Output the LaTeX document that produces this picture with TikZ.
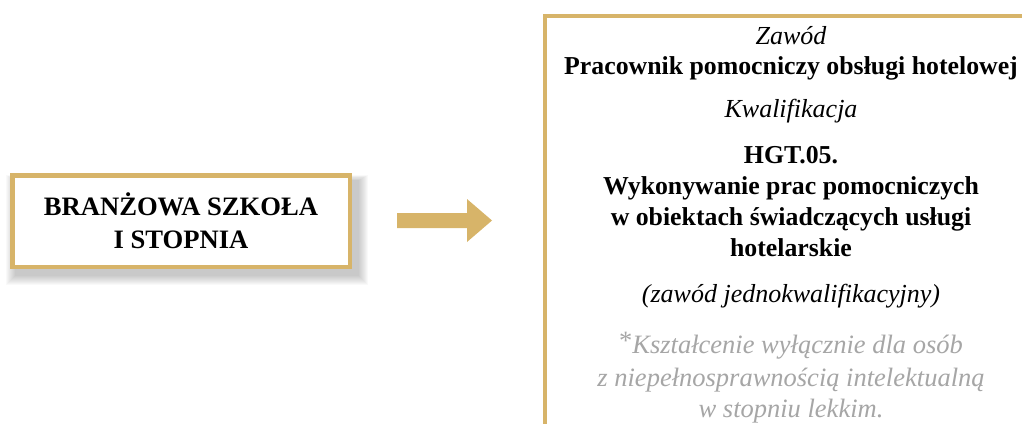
\documentclass[tikz,border=0pt]{standalone}
\usepackage{fontspec}
\setmainfont{Liberation Serif}
\definecolor{gold}{RGB}{215,180,105}
\definecolor{notegray}{RGB}{166,166,166}
\tikzset{
  goldframe/.style={draw=gold, line width=4.5pt, fill=white},
  boldline/.style={anchor=base, inner sep=0pt, font=\bfseries\fontsize{25.8}{31}\selectfont},
  itline/.style={anchor=base, inner sep=0pt, font=\itshape\fontsize{26}{31}\selectfont},
  noteline/.style={anchor=base, inner sep=0pt, text=notegray, font=\itshape\fontsize{26.5}{31}\selectfont},
}
\begin{document}
\begin{tikzpicture}[x=1pt,y=-1pt]
\useasboundingbox (0,0) rectangle (1022,423);
\begin{scope}
\clip (0,0) rectangle (1022,423);
% shadow of left box
\foreach \i in {1,...,10} {
  \fill[black, opacity=0.025] (10+6-\i,173+8-\i*0.6) rectangle (352+6+\i,269+6+\i);
}
% left box
\node[goldframe, minimum width=337.5pt, minimum height=91.5pt, inner sep=0pt] (school) at (181,221) {};
\node[boldline, font=\bfseries\fontsize{26.6}{33}\selectfont] (s1) at (181,215) {BRANŻOWA SZKOŁA};
\node[boldline, font=\bfseries\fontsize{26.6}{33}\selectfont] (s2) at (181,248) {I STOPNIA};
% arrow
\fill[gold] (397,213) -- (467,213) -- (467,199) -- (492,220.5) -- (467,242) -- (467,228) -- (397,228) -- cycle;
% right box frame
\coordinate (rt) at (1040,16);
\coordinate (rc) at (545,16);
\coordinate (rb) at (545,440);
\fill[white] (rc) rectangle (1040,440);
\draw[draw=gold, line width=4.5pt] (rt) -- (rc) -- (rb);
% right texts
\def\cx{791}
\node[itline] (zaw) at (\cx,44) {Zawód};
\node[boldline] (prac) at (\cx,74) {Pracownik pomocniczy obsługi hotelowej};
\node[itline] (kw) at (\cx,117) {Kwalifikacja};
\node[boldline] (h1) at (\cx,163) {HGT.05.};
\node[boldline] (h2) at (\cx,194) {Wykonywanie prac pomocniczych};
\node[boldline] (h3) at (\cx,225) {w obiektach świadczących usługi};
\node[boldline] (h4) at (\cx,256) {hotelarskie};
\node[itline] (zj) at (\cx,302) {(zawód jednokwalifikacyjny)};
\node[noteline] (n1) at (\cx,353) {\raisebox{0.3ex}{\upshape *}Kształcenie wyłącznie dla osób};
\node[noteline] (n2) at (\cx,386) {z niepełnosprawnością intelektualną};
\node[noteline] (n3) at (\cx,417) {w stopniu lekkim.};
\end{scope}
\end{tikzpicture}
\end{document}
